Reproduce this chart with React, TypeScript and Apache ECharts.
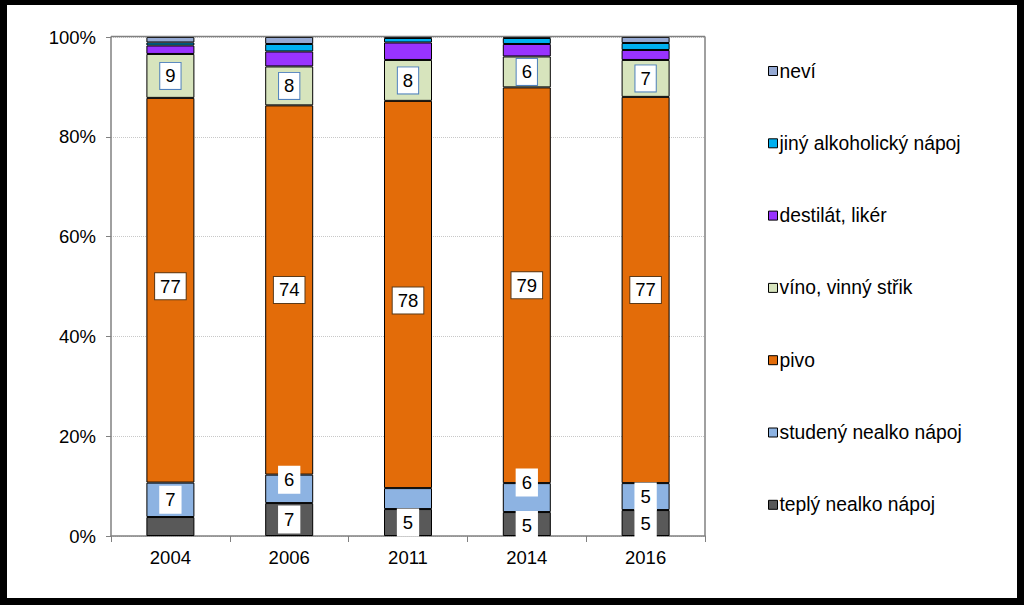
import React, { useEffect, useRef } from "react";
import * as echarts from "echarts";

const years = ["2004", "2006", "2011", "2014", "2016"];
const seriesNames = [
  "teplý nealko nápoj",
  "studený nealko nápoj",
  "pivo",
  "víno, vinný střik",
  "destilát, likér",
  "jiný alkoholický nápoj",
  "neví",
];
const teply = [3.8, 6.6, 5.4, 4.8, 5.2];
const studeny = [6.9, 5.7, 4.2, 5.8, 5.4];
const pivo = [77.1, 74.0, 77.6, 79.3, 77.4];
const vino = [8.8, 7.8, 8.2, 6.2, 7.4];
const destilat = [1.7, 3.0, 3.5, 2.5, 2.0];
const jiny = [0.6, 1.5, 0.9, 1.2, 1.4];
const nevi = [1.1, 1.4, 0.2, 0.2, 1.2];
const yTicks = ["0%", "20%", "40%", "60%", "80%", "100%"];

const colors = ["#595959", "#8db3e2", "#e36c09", "#d7e4bd", "#9933ff", "#00b0f0", "#95a9d3"];
const labelBorders = ["#ffffff", "#ffffff", "#5a3a1a", "#4f81bd", null, null, null];
// manual label nudges (px) as in the original, keyed "series-category"
const labelNudge: Record<string, number> = { "1-1": -9, "1-3": -15, "2-0": -4, "2-2": 6, "0-3": 1 };

export default function App() {
  const ref = useRef<HTMLDivElement>(null);
  useEffect(() => {
    if (!ref.current) return;
    const chart = echarts.init(ref.current, null, { renderer: "svg" });
    const all = [teply, studeny, pivo, vino, destilat, jiny, nevi];
    const font = "Liberation Sans";
    const series = all.map((vals, i) => ({
      name: seriesNames[i],
      type: "bar",
      stack: "total",
      barWidth: 48,
      data: vals.map((v, j) => ({
        value: v,
        label: {
          show: labelBorders[i] !== null && v >= 4.5,
          offset: [0, labelNudge[`${i}-${j}`] || 0],
        },
      })),
      itemStyle: { color: colors[i], borderColor: "#000", borderWidth: 1 },
      label: {
        show: false,
        position: "inside",
        formatter: (p: any) => String(Math.round(p.value)),
        color: "#000",
        fontFamily: font,
        fontSize: 18.5,
        backgroundColor: "#fff",
        borderColor: labelBorders[i] || "#fff",
        borderWidth: 1,
        padding: [4, 5, 3, 5],
      },
    }));
    chart.setOption({
      animation: false,
      backgroundColor: "transparent",
      textStyle: { fontFamily: font },
      grid: { left: 111, right: 319, top: 37, bottom: 69 },
      legend: {
        orient: "vertical",
        left: 763,
        top: 56,
        itemWidth: 9,
        itemHeight: 9,
        itemGap: 52.3,
        icon: "rect",
        data: [...seriesNames].reverse(),
        textStyle: { fontFamily: font, fontSize: 19.3, lineHeight: 20, color: "#000", padding: [0, 0, 0, -3] },
        itemStyle: { borderColor: "#000", borderWidth: 1 },
      },
      xAxis: {
        type: "category",
        data: years,
        axisLine: { lineStyle: { color: "#808080", width: 1.5 } },
        axisTick: { show: true, alignWithLabel: false, length: 6, lineStyle: { color: "#808080" } },
        axisLabel: { color: "#000", fontSize: 18.5, fontFamily: font, margin: 12 },
      },
      yAxis: {
        type: "value",
        min: 0,
        max: 100,
        interval: 20,
        axisLine: { show: true, lineStyle: { color: "#808080", width: 1.5 } },
        axisTick: { show: true, length: 5, lineStyle: { color: "#808080" } },
        axisLabel: {
          color: "#000",
          fontSize: 18.5,
          fontFamily: font,
          margin: 15,
          formatter: (v: number) => yTicks[Math.round(v / 20)],
        },
        splitLine: { show: true, lineStyle: { color: "#c8c8c8", type: "dotted" } },
      },
      graphic: [
        {
          type: "line",
          shape: { x1: 111, y1: 36.5, x2: 705, y2: 36.5 },
          style: { stroke: "#808080", lineWidth: 1.5 },
          z: 10,
        },
        {
          type: "line",
          shape: { x1: 705, y1: 36.5, x2: 705, y2: 536 },
          style: { stroke: "#808080", lineWidth: 1.5 },
          z: 10,
        },
      ],
      series,
    });
    return () => chart.dispose();
  }, []);
  return (
    <div
      style={{
        position: "fixed",
        left: 0,
        top: 0,
        width: 1024,
        height: 605,
        background: "#000",
      }}
    >
      <div
        style={{
          position: "absolute",
          left: 7,
          top: 5,
          width: 1010,
          height: 593,
          background: "#fff",
        }}
      />
      <div
        ref={ref}
        style={{ position: "absolute", left: 0, top: 0, width: 1024, height: 605 }}
      />
    </div>
  );
}
